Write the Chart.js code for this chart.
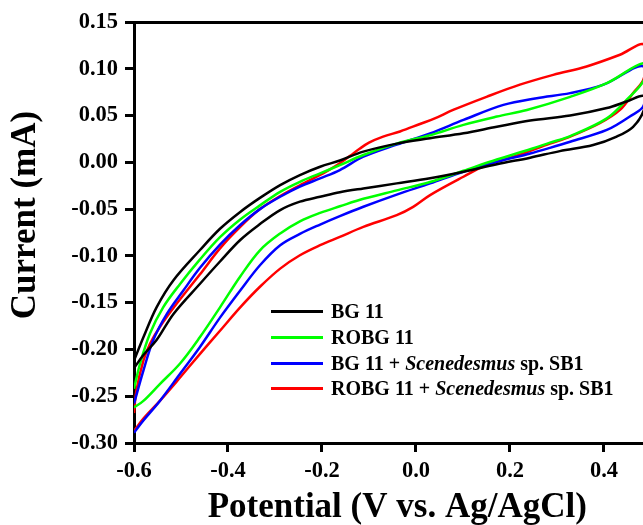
<!DOCTYPE html>
<html>
<head>
<meta charset="utf-8">
<script src="https://cdn.jsdelivr.net/npm/chart.js@4.4.0/dist/chart.umd.min.js"></script>
<style>
  html, body { margin: 0; padding: 0; background: #fff; }
  #wrap { position: relative; width: 643px; height: 525px; overflow: hidden; }
  #legend { position: absolute; left: 271px; top: 299px; font: bold 20px "Liberation Serif", "Times New Roman", serif; color: #000; }
  #legend .row { display: flex; align-items: center; height: 25.7px; white-space: nowrap; }
  #legend .swatch { display: inline-block; width: 52px; height: 3px; margin-right: 8px; }
</style>
</head>
<body>
<div id="wrap">
  <canvas id="cv"></canvas>
  <div id="legend"></div>
</div>
<script>
// series names and colours (legend order)
const seriesLabels = ["BG 11", "ROBG 11", "BG 11 + Scenedesmus sp. SB1", "ROBG 11 + Scenedesmus sp. SB1"];
const seriesColors = ["#000000", "#00ff00", "#0000ff", "#ff0000"];

// axis ticks
const xTicks = [-0.6, -0.4, -0.2, 0.0, 0.2, 0.4];
const yTicks = [-0.30, -0.25, -0.20, -0.15, -0.10, -0.05, 0.00, 0.05, 0.10, 0.15];

// each loop: forward branch left -> right, then return branch right -> left
const bg11V = [-0.600, -0.580, -0.552, -0.516, -0.460, -0.417, -0.374, -0.332, -0.289, -0.247, -0.204, -0.162, -0.112, -0.041, 0.030, 0.101, 0.172, 0.243, 0.328, 0.406, 0.448, 0.485,
  0.485, 0.462, 0.427, 0.377, 0.306, 0.243, 0.172, 0.101, 0.030, -0.041, -0.112, -0.162, -0.204, -0.247, -0.289, -0.332, -0.374, -0.417, -0.460, -0.516, -0.552, -0.580, -0.600];
const bg11I = [-0.212, -0.187, -0.155, -0.126, -0.094, -0.071, -0.053, -0.038, -0.0243, -0.0136, -0.0047, 0.002, 0.0114, 0.020, 0.0257, 0.031, 0.038, 0.0446, 0.050, 0.058, 0.065, 0.071,
  0.056, 0.038, 0.0275, 0.0185, 0.012, 0.005, -0.002, -0.010, -0.017, -0.0225, -0.0279, -0.032, -0.0368, -0.042, -0.051, -0.066, -0.083, -0.106, -0.130, -0.162, -0.190, -0.206, -0.220];

const robg11V = [-0.600, -0.587, -0.566, -0.538, -0.502, -0.460, -0.417, -0.374, -0.332, -0.289, -0.247, -0.204, -0.162, -0.112, -0.041, 0.030, 0.101, 0.172, 0.236, 0.328, 0.406, 0.485,
  0.485, 0.448, 0.406, 0.328, 0.285, 0.243, 0.172, 0.101, 0.030, -0.041, -0.112, -0.162, -0.204, -0.247, -0.289, -0.332, -0.374, -0.417, -0.460, -0.502, -0.545, -0.580, -0.600];
const robg11I = [-0.242, -0.215, -0.183, -0.155, -0.130, -0.104, -0.080, -0.061, -0.046, -0.0315, -0.0208, -0.0118, -0.003, 0.0078, 0.020, 0.029, 0.040, 0.0489, 0.056, 0.070, 0.0846, 0.106,
  0.088, 0.0668, 0.047, 0.028, 0.021, 0.014, 0.003, -0.009, -0.021, -0.030, -0.039, -0.047, -0.054, -0.063, -0.076, -0.094, -0.122, -0.155, -0.187, -0.215, -0.237, -0.255, -0.262];

const bgSbV = [-0.600, -0.580, -0.559, -0.530, -0.495, -0.460, -0.417, -0.374, -0.332, -0.289, -0.247, -0.204, -0.162, -0.112, -0.041, 0.030, 0.101, 0.186, 0.257, 0.328, 0.399, 0.485,
  0.485, 0.455, 0.406, 0.328, 0.285, 0.243, 0.172, 0.101, 0.030, -0.041, -0.112, -0.162, -0.204, -0.247, -0.289, -0.332, -0.374, -0.417, -0.460, -0.502, -0.545, -0.580, -0.600];
const bgSbI = [-0.258, -0.2226, -0.190, -0.162, -0.137, -0.113, -0.088, -0.067, -0.050, -0.0368, -0.026, -0.0172, -0.0083, 0.006, 0.019, 0.031, 0.0453, 0.0614, 0.0686, 0.074, 0.083, 0.1025,
  0.0614, 0.049, 0.0346, 0.022, 0.0155, 0.0095, 0.0005, -0.010, -0.0225, -0.0345, -0.0475, -0.0575, -0.0665, -0.0765, -0.0886, -0.110, -0.137, -0.166, -0.1976, -0.226, -0.255, -0.276, -0.289];

const robgSbV = [-0.600, -0.595, -0.580, -0.566, -0.545, -0.509, -0.460, -0.417, -0.374, -0.332, -0.289, -0.247, -0.204, -0.183, -0.162, -0.140, -0.120, -0.100, -0.070, -0.034, 0.0085, 0.040, 0.079, 0.150, 0.221, 0.292, 0.363, 0.434, 0.485,
  0.485, 0.462, 0.434, 0.391, 0.328, 0.285, 0.214, 0.150, 0.101, 0.030, -0.006, -0.041, -0.112, -0.162, -0.204, -0.247, -0.289, -0.332, -0.374, -0.417, -0.460, -0.502, -0.545, -0.580, -0.600];
const robgSbI = [-0.268, -0.244, -0.212, -0.194, -0.176, -0.151, -0.120, -0.092, -0.069, -0.050, -0.036, -0.0245, -0.0135, -0.0075, -0.001, 0.007, 0.0145, 0.021, 0.0274, 0.033, 0.041, 0.047, 0.056, 0.070, 0.083, 0.0935, 0.1025, 0.115, 0.1257,
  0.090, 0.074, 0.056, 0.0418, 0.0275, 0.020, 0.007, -0.003, -0.0154, -0.035, -0.0476, -0.0565, -0.069, -0.0797, -0.0886, -0.0993, -0.1136, -0.133, -0.155, -0.180, -0.205, -0.230, -0.255, -0.274, -0.287];

const seriesV = [bg11V, robg11V, bgSbV, robgSbV];
const seriesI = [bg11I, robg11I, bgSbI, robgSbI];

const serif = "'Liberation Serif', 'Times New Roman', serif";
Chart.defaults.color = "#000";
Chart.defaults.font.family = serif;

const datasets = seriesLabels.map((label, i) => ({
  label: label,
  data: seriesV[i].map((v, k) => ({ x: v, y: seriesI[i][k] })),
  borderColor: seriesColors[i],
  borderWidth: 2.5,
  pointRadius: 0,
  fill: false,
  tension: 0.35
}));

new Chart(document.getElementById("cv"), {
  type: "line",
  data: { datasets: datasets },
  options: {
    responsive: true,
    maintainAspectRatio: false,
    animation: false,
    layout: { padding: { top: 22, right: 0, left: 0, bottom: 0 } },
    plugins: { legend: { display: false }, tooltip: { enabled: false } },
    scales: {
      x: {
        type: "linear",
        min: -0.6,
        max: 0.483,
        afterBuildTicks: axis => { axis.ticks = xTicks.map(v => ({ value: v })); },
        afterFit: axis => { axis.height = 82; },
        ticks: {
          autoSkip: false,
          maxRotation: 0,
          padding: 6,
          font: { size: 22.5, weight: "bold" },
          callback: v => v.toFixed(1)
        },
        grid: { drawOnChartArea: false, drawTicks: true, tickLength: 9, lineWidth: 3, color: "#000" },
        border: { display: true, width: 3, color: "#000" },
        title: {
          display: true,
          // leading spaces nudge the title right, as in the original layout
          text: "\u00a0\u00a0Potential (V vs. Ag/AgCl)",
          font: { size: 35, weight: "bold", lineHeight: 1 },
          padding: { top: 0, bottom: 0 }
        }
      },
      xTop: {
        type: "linear",
        position: "top",
        min: -0.6,
        max: 0.483,
        afterFit: axis => { axis.height = 0; },
        ticks: { display: false },
        grid: { display: false },
        border: { display: true, width: 3, color: "#000" }
      },
      y: {
        type: "linear",
        min: -0.30,
        max: 0.15,
        afterBuildTicks: axis => { axis.ticks = yTicks.map(v => ({ value: v })); },
        afterFit: axis => { axis.width = 134; },
        ticks: {
          padding: 7,
          font: { size: 22.5, weight: "bold" },
          callback: v => v.toFixed(2)
        },
        grid: { drawOnChartArea: false, drawTicks: true, tickLength: 9, lineWidth: 3, color: "#000" },
        border: { display: true, width: 3, color: "#000" },
        title: {
          display: true,
          // leading spaces lift the rotated title a little
          text: "\u00a0\u00a0\u00a0\u00a0Current (mA)",
          font: { size: 35, weight: "bold", lineHeight: 1 },
          padding: { top: 8, bottom: 0 }
        }
      }
    }
  }
});

// legend with the genus name in italics
const legendEl = document.getElementById("legend");
seriesLabels.forEach((label, i) => {
  const row = document.createElement("div");
  row.className = "row";
  const sw = document.createElement("span");
  sw.className = "swatch";
  sw.style.background = seriesColors[i];
  const txt = document.createElement("span");
  txt.innerHTML = label.replace("Scenedesmus", "<i>Scenedesmus</i>");
  row.appendChild(sw);
  row.appendChild(txt);
  legendEl.appendChild(row);
});
</script>
</body>
</html>
